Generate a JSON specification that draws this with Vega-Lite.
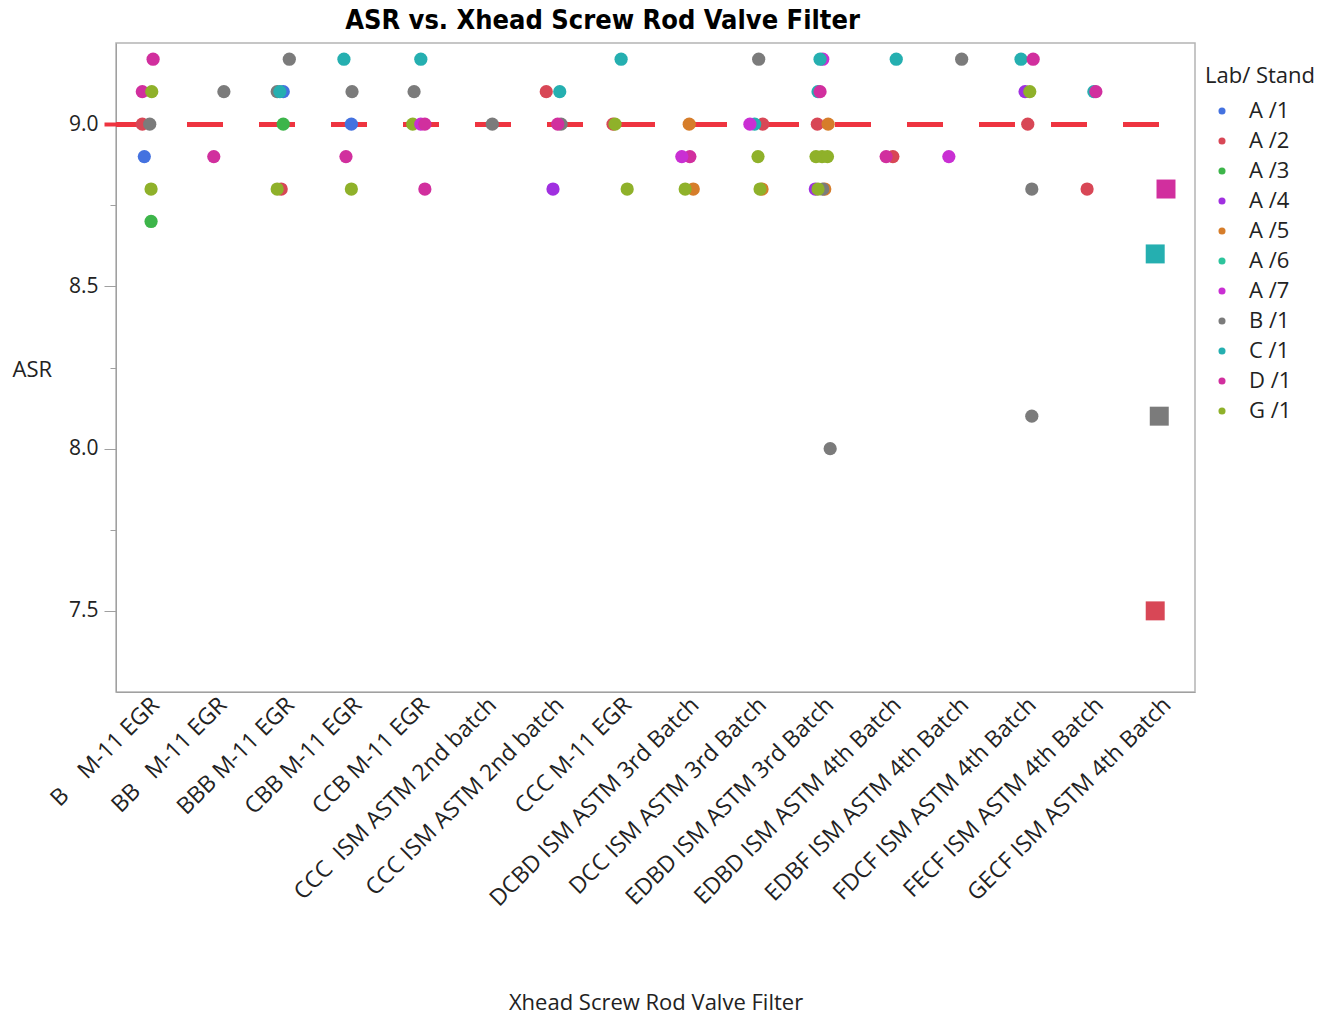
{
  "$schema": "https://vega.github.io/schema/vega-lite/v6.json",
  "width": 1079,
  "height": 649,
  "autosize": {"type": "none"},
  "padding": {"left": 116, "top": 43, "right": 135, "bottom": 325},
  "background": "white",
  "title": {
    "text": "ASR vs. Xhead Screw Rod Valve Filter",
    "font": "Liberation Sans Narrow, DejaVu Sans Condensed, sans-serif",
    "fontSize": 27,
    "fontWeight": "bold",
    "color": "#000000",
    "anchor": "middle",
    "dx": -53,
    "offset": 8
  },
  "config": {
    "font": "Open Sans",
    "view": {"stroke": "#B4B4B4", "strokeWidth": 1.5}
  },
  "data": {
    "values": [
      {"Filter": "B    M-11 EGR", "Lab": "D /1", "ASR": 9.2, "jitter": 0.05},
      {"Filter": "B    M-11 EGR", "Lab": "D /1", "ASR": 9.1, "jitter": -0.11},
      {"Filter": "B    M-11 EGR", "Lab": "G /1", "ASR": 9.1, "jitter": 0.03},
      {"Filter": "B    M-11 EGR", "Lab": "A /2", "ASR": 9.0, "jitter": -0.11},
      {"Filter": "B    M-11 EGR", "Lab": "B /1", "ASR": 9.0, "jitter": 0.0},
      {"Filter": "B    M-11 EGR", "Lab": "A /1", "ASR": 8.9, "jitter": -0.08},
      {"Filter": "B    M-11 EGR", "Lab": "G /1", "ASR": 8.8, "jitter": 0.02},
      {"Filter": "B    M-11 EGR", "Lab": "A /3", "ASR": 8.7, "jitter": 0.02},

      {"Filter": "BB   M-11 EGR", "Lab": "B /1", "ASR": 9.1, "jitter": 0.1},
      {"Filter": "BB   M-11 EGR", "Lab": "D /1", "ASR": 8.9, "jitter": -0.05},

      {"Filter": "BBB M-11 EGR", "Lab": "B /1", "ASR": 9.2, "jitter": 0.07},
      {"Filter": "BBB M-11 EGR", "Lab": "B /1", "ASR": 9.1, "jitter": -0.11},
      {"Filter": "BBB M-11 EGR", "Lab": "A /1", "ASR": 9.1, "jitter": -0.02},
      {"Filter": "BBB M-11 EGR", "Lab": "C /1", "ASR": 9.1, "jitter": -0.07},
      {"Filter": "BBB M-11 EGR", "Lab": "A /3", "ASR": 9.0, "jitter": -0.02},
      {"Filter": "BBB M-11 EGR", "Lab": "A /2", "ASR": 8.8, "jitter": -0.05},
      {"Filter": "BBB M-11 EGR", "Lab": "G /1", "ASR": 8.8, "jitter": -0.11},

      {"Filter": "CBB M-11 EGR", "Lab": "C /1", "ASR": 9.2, "jitter": -0.12},
      {"Filter": "CBB M-11 EGR", "Lab": "B /1", "ASR": 9.1, "jitter": 0.0},
      {"Filter": "CBB M-11 EGR", "Lab": "A /1", "ASR": 9.0, "jitter": -0.01},
      {"Filter": "CBB M-11 EGR", "Lab": "D /1", "ASR": 8.9, "jitter": -0.09},
      {"Filter": "CBB M-11 EGR", "Lab": "G /1", "ASR": 8.8, "jitter": -0.01},

      {"Filter": "CCB M-11 EGR", "Lab": "C /1", "ASR": 9.2, "jitter": 0.02},
      {"Filter": "CCB M-11 EGR", "Lab": "B /1", "ASR": 9.1, "jitter": -0.08},
      {"Filter": "CCB M-11 EGR", "Lab": "G /1", "ASR": 9.0, "jitter": -0.1},
      {"Filter": "CCB M-11 EGR", "Lab": "A /7", "ASR": 9.0, "jitter": 0.02},
      {"Filter": "CCB M-11 EGR", "Lab": "D /1", "ASR": 9.0, "jitter": 0.08},
      {"Filter": "CCB M-11 EGR", "Lab": "D /1", "ASR": 8.8, "jitter": 0.08},

      {"Filter": "CCC  ISM ASTM 2nd batch", "Lab": "B /1", "ASR": 9.0, "jitter": 0.08},

      {"Filter": "CCC ISM ASTM 2nd batch", "Lab": "A /2", "ASR": 9.1, "jitter": -0.12},
      {"Filter": "CCC ISM ASTM 2nd batch", "Lab": "C /1", "ASR": 9.1, "jitter": 0.08},
      {"Filter": "CCC ISM ASTM 2nd batch", "Lab": "B /1", "ASR": 9.0, "jitter": 0.1},
      {"Filter": "CCC ISM ASTM 2nd batch", "Lab": "D /1", "ASR": 9.0, "jitter": 0.05},
      {"Filter": "CCC ISM ASTM 2nd batch", "Lab": "A /4", "ASR": 8.8, "jitter": -0.02},

      {"Filter": "CCC M-11 EGR", "Lab": "C /1", "ASR": 9.2, "jitter": -0.01},
      {"Filter": "CCC M-11 EGR", "Lab": "A /2", "ASR": 9.0, "jitter": -0.13},
      {"Filter": "CCC M-11 EGR", "Lab": "G /1", "ASR": 9.0, "jitter": -0.1},
      {"Filter": "CCC M-11 EGR", "Lab": "G /1", "ASR": 8.8, "jitter": 0.08},

      {"Filter": "DCBD ISM ASTM 3rd Batch", "Lab": "A /5", "ASR": 9.0, "jitter": 0.0},
      {"Filter": "DCBD ISM ASTM 3rd Batch", "Lab": "D /1", "ASR": 8.9, "jitter": 0.01},
      {"Filter": "DCBD ISM ASTM 3rd Batch", "Lab": "A /7", "ASR": 8.9, "jitter": -0.11},
      {"Filter": "DCBD ISM ASTM 3rd Batch", "Lab": "A /5", "ASR": 8.8, "jitter": 0.06},
      {"Filter": "DCBD ISM ASTM 3rd Batch", "Lab": "G /1", "ASR": 8.8, "jitter": -0.06},

      {"Filter": "DCC ISM ASTM 3rd Batch", "Lab": "B /1", "ASR": 9.2, "jitter": 0.03},
      {"Filter": "DCC ISM ASTM 3rd Batch", "Lab": "A /2", "ASR": 9.0, "jitter": 0.09},
      {"Filter": "DCC ISM ASTM 3rd Batch", "Lab": "C /1", "ASR": 9.0, "jitter": -0.03},
      {"Filter": "DCC ISM ASTM 3rd Batch", "Lab": "A /7", "ASR": 9.0, "jitter": -0.1},
      {"Filter": "DCC ISM ASTM 3rd Batch", "Lab": "G /1", "ASR": 8.9, "jitter": 0.02},
      {"Filter": "DCC ISM ASTM 3rd Batch", "Lab": "A /5", "ASR": 8.8, "jitter": 0.08},
      {"Filter": "DCC ISM ASTM 3rd Batch", "Lab": "G /1", "ASR": 8.8, "jitter": 0.05},

      {"Filter": "EDBD ISM ASTM 3rd Batch", "Lab": "A /7", "ASR": 9.2, "jitter": -0.02},
      {"Filter": "EDBD ISM ASTM 3rd Batch", "Lab": "C /1", "ASR": 9.2, "jitter": -0.06},
      {"Filter": "EDBD ISM ASTM 3rd Batch", "Lab": "C /1", "ASR": 9.1, "jitter": -0.09},
      {"Filter": "EDBD ISM ASTM 3rd Batch", "Lab": "D /1", "ASR": 9.1, "jitter": -0.06},
      {"Filter": "EDBD ISM ASTM 3rd Batch", "Lab": "A /2", "ASR": 9.0, "jitter": -0.1},
      {"Filter": "EDBD ISM ASTM 3rd Batch", "Lab": "A /5", "ASR": 9.0, "jitter": 0.06},
      {"Filter": "EDBD ISM ASTM 3rd Batch", "Lab": "G /1", "ASR": 8.9, "jitter": -0.12},
      {"Filter": "EDBD ISM ASTM 3rd Batch", "Lab": "G /1", "ASR": 8.9, "jitter": -0.03},
      {"Filter": "EDBD ISM ASTM 3rd Batch", "Lab": "G /1", "ASR": 8.9, "jitter": 0.05},
      {"Filter": "EDBD ISM ASTM 3rd Batch", "Lab": "A /4", "ASR": 8.8, "jitter": -0.13},
      {"Filter": "EDBD ISM ASTM 3rd Batch", "Lab": "A /5", "ASR": 8.8, "jitter": 0.01},
      {"Filter": "EDBD ISM ASTM 3rd Batch", "Lab": "B /1", "ASR": 8.8, "jitter": -0.02},
      {"Filter": "EDBD ISM ASTM 3rd Batch", "Lab": "G /1", "ASR": 8.8, "jitter": -0.09},
      {"Filter": "EDBD ISM ASTM 3rd Batch", "Lab": "B /1", "ASR": 8.0, "jitter": 0.09},

      {"Filter": "EDBD ISM ASTM 4th Batch", "Lab": "C /1", "ASR": 9.2, "jitter": 0.07},
      {"Filter": "EDBD ISM ASTM 4th Batch", "Lab": "A /2", "ASR": 8.9, "jitter": 0.02},
      {"Filter": "EDBD ISM ASTM 4th Batch", "Lab": "D /1", "ASR": 8.9, "jitter": -0.08},

      {"Filter": "EDBF ISM ASTM 4th Batch", "Lab": "B /1", "ASR": 9.2, "jitter": 0.04},
      {"Filter": "EDBF ISM ASTM 4th Batch", "Lab": "A /7", "ASR": 8.9, "jitter": -0.15},

      {"Filter": "FDCF ISM ASTM 4th Batch", "Lab": "C /1", "ASR": 9.2, "jitter": -0.08},
      {"Filter": "FDCF ISM ASTM 4th Batch", "Lab": "D /1", "ASR": 9.2, "jitter": 0.1},
      {"Filter": "FDCF ISM ASTM 4th Batch", "Lab": "A /4", "ASR": 9.1, "jitter": -0.02},
      {"Filter": "FDCF ISM ASTM 4th Batch", "Lab": "G /1", "ASR": 9.1, "jitter": 0.05},
      {"Filter": "FDCF ISM ASTM 4th Batch", "Lab": "A /2", "ASR": 9.0, "jitter": 0.02},
      {"Filter": "FDCF ISM ASTM 4th Batch", "Lab": "B /1", "ASR": 8.8, "jitter": 0.08},
      {"Filter": "FDCF ISM ASTM 4th Batch", "Lab": "B /1", "ASR": 8.1, "jitter": 0.08},

      {"Filter": "FECF ISM ASTM 4th Batch", "Lab": "C /1", "ASR": 9.1, "jitter": 0.0},
      {"Filter": "FECF ISM ASTM 4th Batch", "Lab": "D /1", "ASR": 9.1, "jitter": 0.03},
      {"Filter": "FECF ISM ASTM 4th Batch", "Lab": "A /2", "ASR": 8.8, "jitter": -0.1},

      {"Filter": "GECF ISM ASTM 4th Batch", "Lab": "D /1", "ASR": 8.8, "jitter": 0.07},
      {"Filter": "GECF ISM ASTM 4th Batch", "Lab": "C /1", "ASR": 8.6, "jitter": -0.09},
      {"Filter": "GECF ISM ASTM 4th Batch", "Lab": "B /1", "ASR": 8.1, "jitter": -0.03},
      {"Filter": "GECF ISM ASTM 4th Batch", "Lab": "A /2", "ASR": 7.5, "jitter": -0.09}
    ]
  },
  "layer": [
    {
      "mark": {"type": "rule", "color": "#EE3440", "strokeWidth": 4, "strokeDash": [36, 36], "strokeDashOffset": 36},
      "encoding": {"y": {"datum": 9.0, "type": "quantitative"}}
    },
    {
      "mark": {"type": "point", "filled": true, "opacity": 1},
      "encoding": {
        "x": {
          "field": "Filter",
          "type": "nominal",
          "sort": null,
          "scale": {"type": "band", "paddingInner": 0, "paddingOuter": 0},
          "axis": {
            "title": "Xhead Screw Rod Valve Filter",
            "titleFontSize": 22,
            "titleFontWeight": "normal",
            "titleColor": "#222222",
            "titleY": 310,
            "titleBaseline": "middle",
            "labelAngle": -45,
            "labelAlign": "right",
            "labelBaseline": "middle",
            "labelPadding": 9,
            "labelOffset": 6,
            "labelFontSize": 23,
            "labelLimit": 0,
            "labelColor": "#222222",
            "labelExpr": "replace(datum.label, regexp(' ', 'g'), '\u00a0')",
            "ticks": false,
            "domainColor": "#A0A0A0",
            "grid": false
          }
        },
        "xOffset": {"field": "jitter", "type": "quantitative", "scale": {"domain": [-0.5, 0.5]}},
        "y": {
          "field": "ASR",
          "type": "quantitative",
          "scale": {"domain": [7.25, 9.25], "nice": false, "zero": false},
          "axis": {
            "title": "ASR",
            "titleAngle": 0,
            "titleFontSize": 22,
            "titleFontWeight": "normal",
            "titleColor": "#222222",
            "titleX": -104,
            "titleY": 326,
            "titleAlign": "left",
            "titleBaseline": "middle",
            "values": [7.5, 7.75, 8, 8.25, 8.5, 8.75, 9],
            "labelExpr": "(datum.value * 2) % 1 === 0 ? format(datum.value, '.1f') : ''",
            "labelFontSize": 21,
            "labelColor": "#222222",
            "labelPadding": 6,
            "tickSize": {"condition": {"test": "(datum.value * 2) % 1 === 0", "value": 12}, "value": 6},
            "tickColor": {"condition": {"test": "datum.value === 9", "value": "#EE3440"}, "value": "#A0A0A0"},
            "tickWidth": {"condition": {"test": "datum.value === 9", "value": 4}, "value": 1},
            "domainColor": "#A0A0A0",
            "grid": false
          }
        },
        "color": {
          "field": "Lab",
          "type": "nominal",
          "title": "Lab/ Stand",
          "scale": {
            "domain": ["A /1", "A /2", "A /3", "A /4", "A /5", "A /6", "A /7", "B /1", "C /1", "D /1", "G /1"],
            "range": ["#4472E0", "#D84756", "#3DB54A", "#A030E0", "#D67D2A", "#2DC49C", "#C92FD3", "#7B7B7B", "#25AFB0", "#D12F9E", "#8FB12A"]
          },
          "legend": {
            "orient": "none",
            "legendX": 1089,
            "legendY": 23,
            "padding": 0,
            "titleFontSize": 22,
            "titleFontWeight": "normal",
            "titleColor": "#222222",
            "titlePadding": 12,
            "labelFontSize": 22,
            "labelColor": "#222222",
            "symbolType": "circle",
            "symbolSize": 50,
            "symbolOffset": 6,
            "labelOffset": 16,
            "rowPadding": 8
          }
        },
        "shape": {
          "condition": {"test": "datum.Filter === 'GECF ISM ASTM 4th Batch'", "value": "square"},
          "value": "circle"
        },
        "size": {
          "condition": {"test": "datum.Filter === 'GECF ISM ASTM 4th Batch'", "value": 360},
          "value": 175
        }
      }
    }
  ]
}
